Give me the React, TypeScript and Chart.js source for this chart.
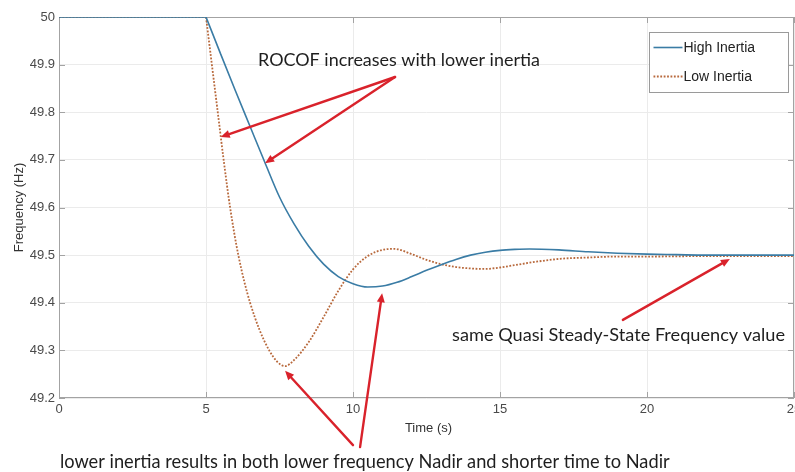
import React, { useEffect, useRef } from "react";
import { Chart, registerables } from "chart.js";

Chart.register(...registerables);

// ---- data ----
const preTime = [0, 5];
const preFreq = [50, 50];

const highTime = [5, 5.5, 6, 6.5, 7, 7.5, 8, 8.5, 9, 9.5, 10, 10.5, 11, 11.5, 12, 12.5, 13, 13.5, 14, 14.5, 15, 15.5, 16, 17, 18, 19, 20, 21, 22, 25];
const highFreq = [50, 49.922, 49.845, 49.77, 49.695, 49.622, 49.565, 49.518, 49.481, 49.455, 49.44, 49.433, 49.435, 49.443, 49.455, 49.468, 49.48, 49.491, 49.5, 49.506, 49.51, 49.512, 49.513, 49.511, 49.507, 49.504, 49.502, 49.501, 49.5, 49.5];

const lowTime = [5, 5.2, 5.4, 5.6, 5.82, 6.1, 6.5, 7.15, 7.69, 8, 8.5, 9, 9.5, 10, 10.5, 11, 11.4, 12, 12.5, 13, 13.5, 14, 14.5, 15, 15.5, 16, 17, 18, 19, 20, 22, 25];
const lowFreq = [50, 49.9, 49.8, 49.7, 49.6, 49.5, 49.4, 49.3, 49.267, 49.28, 49.318, 49.37, 49.425, 49.47, 49.498, 49.511, 49.513, 49.502, 49.49, 49.481, 49.475, 49.472, 49.471, 49.474, 49.479, 49.484, 49.492, 49.495, 49.497, 49.497, 49.498, 49.498];

const seriesNames = ["High Inertia", "Low Inertia"];
const xTitle = "Time (s)";
const yTitle = "Frequency (Hz)";

// annotations, in data coordinates (time, frequency)
const noteTexts = [
  "ROCOF increases with lower inertia",
  "same Quasi Steady-State Frequency value",
  "lower inertia results in both lower frequency Nadir and shorter time to Nadir",
];
const noteT = [6.77, 13.37, 0.03];
const noteF = [49.91, 49.332, 49.066];
const noteWidthT = [9.6, 11.33, 20.75];

const arrowFromT = [11.43, 11.43, 19.18, 10.0, 10.24];
const arrowFromF = [49.874, 49.874, 49.364, 49.101, 49.097];
const arrowToT = [5.5, 7.01, 22.82, 7.69, 10.99];
const arrowToF = [49.748, 49.693, 49.492, 49.257, 49.42];

const BLUE = "#3a7ca5";
const ORANGE = "#b8693c";
const RED = "#d9222b";
const BOX = "#a3a3a3";

const toXY = (ts: number[], fs: number[]) => ts.map((t, i) => ({ x: t, y: fs[i] }));

function drawArrow(ctx: CanvasRenderingContext2D, x1: number, y1: number, x2: number, y2: number) {
  const ang = Math.atan2(y2 - y1, x2 - x1);
  const hl = 9;
  const hw = 4;
  const bx = x2 - hl * Math.cos(ang);
  const by = y2 - hl * Math.sin(ang);
  ctx.beginPath();
  ctx.moveTo(x1, y1);
  ctx.lineTo(bx, by);
  ctx.stroke();
  ctx.beginPath();
  ctx.moveTo(x2, y2);
  ctx.lineTo(bx + hw * Math.sin(ang), by - hw * Math.cos(ang));
  ctx.lineTo(bx - hw * Math.sin(ang), by + hw * Math.cos(ang));
  ctx.closePath();
  ctx.fill();
}

const framePlugin = {
  id: "frame",
  beforeDatasetsDraw(chart: any) {
    const { ctx, chartArea: a, scales } = chart;
    ctx.save();
    ctx.strokeStyle = BOX;
    ctx.lineWidth = 1;
    ctx.strokeRect(a.left + 0.5, a.top + 0.5, a.right - a.left - 1, a.bottom - a.top - 1);
    const tl = 6;
    ctx.beginPath();
    scales.x.ticks.forEach((t: any) => {
      const px = Math.round(scales.x.getPixelForValue(t.value)) + 0.5;
      ctx.moveTo(px, a.bottom);
      ctx.lineTo(px, a.bottom - tl);
      ctx.moveTo(px, a.top);
      ctx.lineTo(px, a.top + tl);
    });
    scales.y.ticks.forEach((t: any) => {
      const py = Math.round(scales.y.getPixelForValue(t.value)) + 0.5;
      ctx.moveTo(a.left, py);
      ctx.lineTo(a.left + tl, py);
      ctx.moveTo(a.right, py);
      ctx.lineTo(a.right - tl, py);
    });
    ctx.stroke();
    ctx.restore();
  },
  afterDraw(chart: any) {
    const { ctx, chartArea: a, scales } = chart;
    const X = (v: number) => scales.x.getPixelForValue(v);
    const Y = (v: number) => scales.y.getPixelForValue(v);
    ctx.save();

    // axis titles
    ctx.fillStyle = "#333";
    ctx.font = "13px 'Liberation Sans', Arial, sans-serif";
    ctx.textAlign = "center";
    ctx.textBaseline = "middle";
    ctx.fillText(xTitle, (a.left + a.right) / 2 + 2, a.bottom + 30);
    ctx.save();
    ctx.translate(19, (a.top + a.bottom) / 2);
    ctx.rotate(-Math.PI / 2);
    ctx.fillText(yTitle, 0, 0);
    ctx.restore();

    // arrows
    ctx.strokeStyle = RED;
    ctx.fillStyle = RED;
    ctx.lineWidth = 2.4;
    ctx.lineCap = "round";
    arrowFromT.forEach((t, i) => {
      drawArrow(ctx, X(t), Y(arrowFromF[i]), X(arrowToT[i]), Y(arrowToF[i]));
    });

    // notes
    ctx.fillStyle = "#1e1e1e";
    ctx.textAlign = "left";
    ctx.textBaseline = "middle";
    noteTexts.forEach((txt, i) => {
      ctx.font = "16px Lato, 'Open Sans', sans-serif";
      const w = ctx.measureText(txt).width;
      const target = X(noteT[i] + noteWidthT[i]) - X(noteT[i]);
      const size = (16 * target) / w;
      ctx.font = `${size.toFixed(2)}px Lato, 'Open Sans', sans-serif`;
      ctx.fillText(txt, X(noteT[i]), Y(noteF[i]));
    });

    // legend
    const lx = 649.5, ly = 32.5, lw = 139, lh = 60;
    ctx.fillStyle = "#fff";
    ctx.fillRect(lx, ly, lw, lh);
    ctx.strokeStyle = "#9a9a9a";
    ctx.lineWidth = 1;
    ctx.strokeRect(lx, ly, lw, lh);
    ctx.lineCap = "butt";
    const rows = [ly + 15, ly + 44];
    const colors = [BLUE, ORANGE];
    rows.forEach((ry, i) => {
      ctx.strokeStyle = colors[i];
      ctx.lineWidth = i === 0 ? 1.6 : 1.8;
      ctx.setLineDash(i === 0 ? [] : [1.8, 1.6]);
      ctx.beginPath();
      ctx.moveTo(lx + 4, ry);
      ctx.lineTo(lx + 33, ry);
      ctx.stroke();
      ctx.setLineDash([]);
      ctx.fillStyle = "#222";
      ctx.font = "14px 'Liberation Sans', Arial, sans-serif";
      ctx.textAlign = "left";
      ctx.textBaseline = "middle";
      ctx.fillText(seriesNames[i], lx + 34, ry + 1);
    });
    ctx.restore();
  },
};

export default function App() {
  const ref = useRef<HTMLCanvasElement | null>(null);
  useEffect(() => {
    document.body.style.margin = "0";
    const canvas = ref.current!;
    const lineBase = { fill: false, pointRadius: 0, cubicInterpolationMode: "monotone" as const };
    const chart = new Chart(canvas, {
      type: "line",
      data: {
        datasets: [
          { ...lineBase, label: seriesNames[0] + " (pre)", data: toXY(preTime, preFreq), borderColor: BLUE, borderWidth: 1.6 },
          { ...lineBase, label: seriesNames[0], data: toXY(highTime, highFreq), borderColor: BLUE, borderWidth: 1.6 },
          { ...lineBase, label: seriesNames[1] + " (pre)", data: toXY(preTime, preFreq), borderColor: ORANGE, borderWidth: 1.8, borderDash: [1.8, 1.6] },
          { ...lineBase, label: seriesNames[1], data: toXY(lowTime, lowFreq), borderColor: ORANGE, borderWidth: 1.8, borderDash: [1.8, 1.6] },
        ],
      },
      options: {
        responsive: false,
        animation: false,
        layout: { padding: { top: 17, right: 1, left: 0, bottom: 0 }, autoPadding: false },
        plugins: { legend: { display: false }, tooltip: { enabled: false } },
        scales: {
          x: {
            type: "linear",
            min: 0,
            max: 25,
            ticks: { stepSize: 5, color: "#4a4a4a", font: { family: "'Liberation Sans', Arial, sans-serif", size: 13 }, padding: 4, maxRotation: 0 },
            grid: { color: "#ebebeb", drawTicks: false },
            border: { display: false },
            afterFit: (s: any) => { s.height = 74; s.paddingLeft = 0; s.paddingRight = 0; },
          },
          y: {
            type: "linear",
            min: 49.2,
            max: 50,
            ticks: {
              stepSize: 0.1,
              color: "#4a4a4a",
              font: { family: "'Liberation Sans', Arial, sans-serif", size: 13 },
              padding: 4,
              callback: (v: any) => String(Number(Number(v).toFixed(1))),
            },
            grid: { color: "#ebebeb", drawTicks: false },
            border: { display: false },
            afterFit: (s: any) => { s.width = 59; s.paddingTop = 0; s.paddingBottom = 0; },
          },
        },
      },
      plugins: [framePlugin],
    });
    return () => chart.destroy();
  }, []);
  return (
    <div style={{ width: 795, height: 472, background: "#fff" }}>
      <canvas ref={ref} width={795} height={472} style={{ display: "block" }} />
    </div>
  );
}
